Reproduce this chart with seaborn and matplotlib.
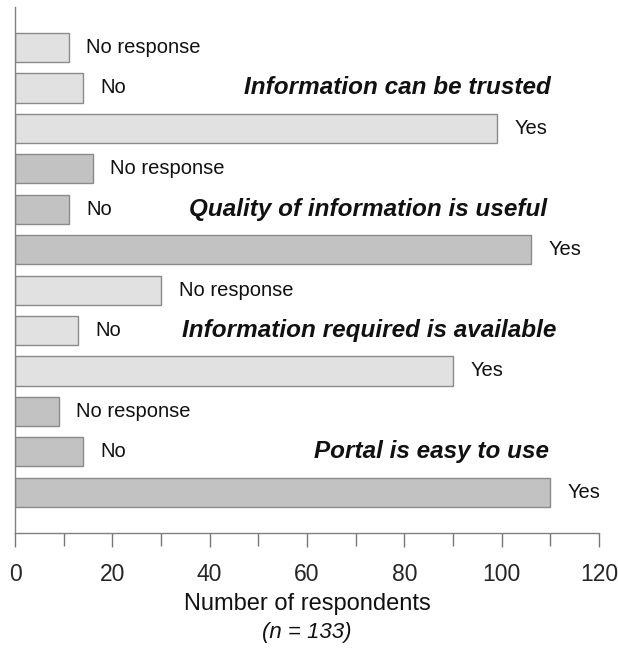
import matplotlib
matplotlib.use('Agg')
import matplotlib.pyplot as plt
import seaborn as sns
import pandas as pd
from matplotlib.ticker import MultipleLocator

# ── data ────────────────────────────────────────────────────────────────────
STATEMENTS = ['Information can be trusted', 'Quality of information is useful',
              'Information required is available', 'Portal is easy to use']
RESPONSES = ['No response', 'No', 'Yes']
COUNTS = [
    [11, 14, 99],    # trusted
    [16, 11, 106],   # useful
    [30, 13, 90],    # available
    [9, 14, 110],    # easy to use
]
SHADES = ['light', 'dark', 'light', 'dark']
PALETTE = {'light': '#e1e1e1', 'dark': '#c2c2c2'}
TITLE_RIGHT = [110.1, 109.3, 111.2, 109.7]   # right edge of each statement title (x units)
N_TOTAL = 133


def build_frame():
    rows = []
    for stmt, vals, shade in zip(STATEMENTS, COUNTS, SHADES):
        for resp, v in zip(RESPONSES, vals):
            rows.append({'bar': f'{stmt} | {resp}', 'statement': stmt,
                         'response': resp, 'count': v, 'shade': shade})
    return pd.DataFrame(rows)


def main():
    sns.set_theme(style='white')
    plt.rcParams['font.family'] = ['Liberation Sans', 'DejaVu Sans']

    df = build_frame()
    fig = plt.figure(figsize=(6.18, 6.48), dpi=100)
    ax = fig.add_axes([0.0243, 0.178, 0.9450, 0.811])

    sns.barplot(data=df, x='count', y='bar', hue='shade', palette=PALETTE,
                order=df['bar'].tolist(), orient='h', dodge=False, width=0.72,
                edgecolor='#8a8a8a', linewidth=1.0, legend=False, ax=ax)

    # response labels right of each bar
    for i, row in df.iterrows():
        ax.text(row['count'] + 3.6, i, row['response'], ha='left', va='center',
                fontsize=14.5, color='#111111')

    # statement titles, on the "No" row of each group
    for k, (stmt, xr) in enumerate(zip(STATEMENTS, TITLE_RIGHT)):
        ax.text(xr, k * 3 + 1, stmt, ha='right', va='center', fontsize=17.5,
                fontweight='bold', fontstyle='italic', color='#111111')

    ax.set_xlim(0, 120)
    ax.set_ylim(12, -1)
    ax.xaxis.set_major_locator(MultipleLocator(20))
    ax.xaxis.set_minor_locator(MultipleLocator(10))
    ax.tick_params(axis='x', which='major', direction='out', length=10, width=1.0,
                   color='#777777', labelsize=16.5, pad=12, bottom=True)
    ax.tick_params(axis='x', which='minor', direction='out', length=9, width=1.0,
                   color='#777777', bottom=True)
    ax.set_yticks([])
    ax.set_ylabel('')
    ax.set_xlabel('Number of respondents', fontsize=17, labelpad=5, color='#111111')

    for side in ('top', 'right'):
        ax.spines[side].set_visible(False)
    for side in ('left', 'bottom'):
        ax.spines[side].set_color('#808080')
        ax.spines[side].set_linewidth(1.0)

    fig.text(0.497, 0.024, f'(n = {N_TOTAL})', ha='center', va='center',
             fontsize=16, fontstyle='italic', color='#111111')

    fig.savefig('out.png', dpi=100, facecolor='white')
    plt.close(fig)


if __name__ == '__main__':
    main()
